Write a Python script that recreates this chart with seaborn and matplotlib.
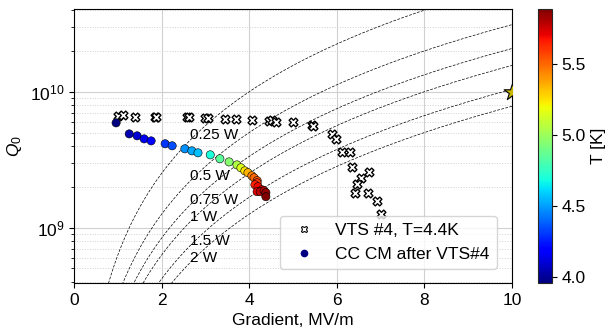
import numpy as np
import pandas as pd
import matplotlib
matplotlib.use("Agg")
import matplotlib.pyplot as plt
import seaborn as sns

# VTS #4 vertical test, T=4.4K
vts_grad = [1.00, 1.12, 1.39, 1.85, 1.87, 2.58, 2.63, 2.99, 3.06, 3.45, 3.70, 4.06,
            4.45, 4.52, 4.61, 5.00, 5.43, 5.46, 5.89, 5.98, 6.12, 6.30, 6.35, 6.74,
            6.55, 6.46, 6.42, 6.71, 6.92, 7.01]
vts_q0 = [6.67e9, 6.78e9, 6.55e9, 6.55e9, 6.55e9, 6.55e9, 6.55e9, 6.44e9, 6.44e9,
          6.33e9, 6.33e9, 6.22e9, 6.12e9, 6.22e9, 6.02e9, 6.02e9, 5.71e9, 5.62e9,
          4.91e9, 4.51e9, 3.62e9, 3.62e9, 2.81e9, 2.58e9, 2.33e9, 2.11e9, 1.81e9,
          1.81e9, 1.58e9, 1.25e9]

# CC CM after VTS#4, colored by temperature
cm_grad = [0.96, 1.26, 1.44, 1.60, 1.76, 2.08, 2.24, 2.53, 2.69, 2.83, 3.11, 3.33,
           3.54, 3.72, 3.81, 3.90, 3.97, 4.06, 4.11, 4.18, 4.18, 4.13, 4.20, 4.29,
           4.18, 4.25, 4.34, 4.38, 4.38]
cm_q0 = [5.92e9, 4.91e9, 4.75e9, 4.51e9, 4.36e9, 4.15e9, 4.01e9, 3.81e9, 3.68e9,
         3.56e9, 3.44e9, 3.22e9, 3.05e9, 2.90e9, 2.76e9, 2.62e9, 2.54e9, 2.41e9,
         2.33e9, 2.22e9, 2.14e9, 2.07e9, 2.00e9, 1.90e9, 1.84e9, 1.84e9, 1.87e9,
         1.81e9, 1.69e9]
cm_temp = [3.96, 4.05, 4.10, 4.15, 4.20, 4.30, 4.35, 4.48, 4.52, 4.57, 4.70, 4.85,
           4.95, 5.05, 5.15, 5.25, 5.35, 5.45, 5.50, 5.55, 5.60, 5.65, 5.70, 5.75,
           5.72, 5.78, 5.80, 5.85, 5.89]

# constant-power lines: Q0 = k * E^2 / P
powers = [0.25, 0.5, 0.75, 1, 1.5, 2]
power_labels = ["0.25 W", "0.5 W", "0.75 W", "1 W", "1.5 W", "2 W"]
label_y = [4.83e9, 2.41e9, 1.61e9, 1.20e9, 8.0e8, 6.0e8]
k_const = 1.57e8

star_grad = [10.0]
star_q0 = [1.0e10]

sns.set_style("ticks")
plt.rcParams['font.family'] = ['Liberation Sans', 'DejaVu Sans']
plt.rcParams['mathtext.fontset'] = 'custom'
plt.rcParams['mathtext.rm'] = 'Liberation Sans'
plt.rcParams['mathtext.it'] = 'Liberation Sans:italic'
for key in ['text.color', 'axes.labelcolor', 'xtick.color', 'ytick.color']:
    plt.rcParams[key] = 'black'

fs = 12.5

fig = plt.figure(figsize=(6.07, 3.31), dpi=100)
ax = fig.add_axes([0.122, 0.145, 0.7215, 0.828])
cax = fig.add_axes([0.886, 0.145, 0.023, 0.828])

ax.set_yscale("log")
ax.set_xlim(0, 10)
ax.set_ylim(3.9e8, 4.1e10)

ax.grid(True, which="major", color="#d0d0d0", linewidth=0.8, linestyle="-")
ax.grid(True, which="minor", axis="y", color="#d0d0d0", linewidth=0.7, linestyle=":")
ax.set_axisbelow(True)

e = np.linspace(0.01, 10, 400)
for p in powers:
    ax.plot(e, k_const * e**2 / p, color="k", lw=0.5, ls=(0, (4, 2)), zorder=1)
for lab, yy in zip(power_labels, label_y):
    ax.text(2.65, yy, lab, fontsize=11, ha="left", va="center", zorder=2)

vts = pd.DataFrame({"grad": vts_grad, "q0": vts_q0})
cm = pd.DataFrame({"grad": cm_grad, "q0": cm_q0, "T": cm_temp})

tmin, tmax = min(cm_temp), max(cm_temp)
jet = plt.get_cmap("jet")

sns.scatterplot(data=vts, x="grad", y="q0", marker="X", s=40, color="white",
                edgecolor="black", linewidth=1.0, ax=ax, legend=False, zorder=3)
sns.scatterplot(data=cm, x="grad", y="q0", hue="T", palette=jet,
                hue_norm=(tmin, tmax), s=35, edgecolor="black", linewidth=0.4,
                ax=ax, legend=False, zorder=4)
star = ax.scatter(star_grad, star_q0, marker="*", s=160, color="#c8b800",
                  edgecolor="black", linewidth=0.8, zorder=5)
star.set_clip_on(True)
star.set_clip_path(ax.patch)

sm = plt.cm.ScalarMappable(cmap=jet, norm=plt.Normalize(tmin, tmax))
cb = fig.colorbar(sm, cax=cax)
cb.set_ticks([4.0, 4.5, 5.0, 5.5])
cb.ax.tick_params(labelsize=fs)
cb.set_label("T [K]", fontsize=fs)
cb.outline.set_linewidth(0.8)

h1 = plt.Line2D([], [], marker="X", ls="", markersize=5, markerfacecolor="white",
                markeredgecolor="black", markeredgewidth=0.8)
h2 = plt.Line2D([], [], marker="o", ls="", markersize=4.5,
                markerfacecolor=jet(0.0), markeredgecolor=jet(0.0))
ax.legend([h1, h2], ["VTS #4, T=4.4K", "CC CM after VTS#4"], loc="lower right",
          fontsize=fs, frameon=True, framealpha=0.8, borderpad=0.4,
          handletextpad=0.8, bbox_to_anchor=(0.985, 0.02))

ax.set_xlabel("Gradient, MV/m", fontsize=fs)
ax.set_ylabel("$Q_0$", fontsize=fs)
ax.tick_params(axis="both", which="major", labelsize=fs)
for sp in ax.spines.values():
    sp.set_color("black")
    sp.set_linewidth(0.8)

fig.savefig("out.png", dpi=100)
